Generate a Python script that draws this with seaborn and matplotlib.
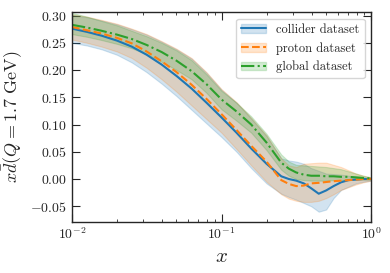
import numpy as np
import pandas as pd
import matplotlib
matplotlib.use("Agg")
import matplotlib.pyplot as plt
from matplotlib.patches import Patch
from matplotlib.lines import Line2D
import seaborn as sns

# x grid (log-spaced points)
x = [0.01, 0.0126, 0.0158, 0.02, 0.0251, 0.0316, 0.0398, 0.0501, 0.0631, 0.0794,
     0.1, 0.126, 0.158, 0.2, 0.251, 0.282, 0.316, 0.355, 0.398, 0.447,
     0.501, 0.562, 0.631, 0.708, 0.794, 0.891, 1.0]

# collider dataset
collider_mid = [0.276, 0.270, 0.263, 0.254, 0.243, 0.228, 0.210, 0.189, 0.166, 0.140,
                0.113, 0.085, 0.056, 0.028, 0.005, 0.000, -0.003, -0.008, -0.017, -0.027,
                -0.021, -0.013, -0.006, -0.002, -0.001, 0.000, 0.000]
collider_lo = [0.250, 0.245, 0.238, 0.228, 0.214, 0.196, 0.175, 0.152, 0.127, 0.102,
               0.077, 0.050, 0.020, -0.008, -0.027, -0.033, -0.038, -0.044, -0.050, -0.060,
               -0.056, -0.035, -0.020, -0.014, -0.008, -0.005, -0.003]
collider_hi = [0.301, 0.297, 0.291, 0.284, 0.275, 0.265, 0.252, 0.238, 0.221, 0.195,
               0.164, 0.140, 0.111, 0.079, 0.038, 0.034, 0.032, 0.028, 0.020, 0.015,
               0.010, 0.009, 0.008, 0.006, 0.004, 0.003, 0.002]

# proton dataset
proton_mid = [0.279, 0.273, 0.267, 0.259, 0.249, 0.234, 0.216, 0.196, 0.173, 0.147,
              0.119, 0.090, 0.061, 0.032, -0.002, -0.009, -0.013, -0.012, -0.008, -0.007,
              -0.0055, -0.004, -0.003, -0.002, -0.001, 0.000, 0.000]
proton_lo = [0.256, 0.250, 0.243, 0.234, 0.222, 0.204, 0.183, 0.160, 0.135, 0.110,
             0.085, 0.055, 0.025, -0.005, -0.028, -0.036, -0.040, -0.042, -0.042, -0.040,
             -0.035, -0.028, -0.020, -0.015, -0.010, -0.006, -0.003]
proton_hi = [0.302, 0.298, 0.292, 0.285, 0.276, 0.266, 0.253, 0.239, 0.222, 0.196,
             0.165, 0.141, 0.112, 0.080, 0.038, 0.025, 0.022, 0.028, 0.029, 0.030,
             0.030, 0.026, 0.022, 0.016, 0.010, 0.006, 0.003]

# global dataset
global_mid = [0.283, 0.278, 0.272, 0.265, 0.257, 0.246, 0.233, 0.217, 0.198, 0.174,
              0.146, 0.124, 0.100, 0.067, 0.030, 0.019, 0.012, 0.008, 0.006, 0.006,
              0.005, 0.005, 0.004, 0.004, 0.003, 0.002, 0.001]
global_lo = [0.266, 0.261, 0.255, 0.248, 0.240, 0.229, 0.215, 0.200, 0.183, 0.158,
             0.128, 0.107, 0.085, 0.053, 0.017, 0.006, 0.000, -0.002, -0.003, -0.003,
             -0.003, -0.002, -0.002, -0.002, -0.001, -0.001, -0.001]
global_hi = [0.305, 0.298, 0.290, 0.282, 0.272, 0.262, 0.250, 0.236, 0.218, 0.192,
             0.162, 0.140, 0.115, 0.083, 0.045, 0.032, 0.026, 0.025, 0.024, 0.023,
             0.022, 0.020, 0.018, 0.014, 0.010, 0.006, 0.003]

labels = ["collider dataset", "proton dataset", "global dataset"]
colors = ["#1f77b4", "#ff7f0e", "#2ca02c"]
styles = ["-", "--", "-."]

sns.set_style("ticks")
plt.rcParams["font.family"] = "serif"
plt.rcParams["font.serif"] = ["cmr10", "DejaVu Serif"]
plt.rcParams["mathtext.fontset"] = "cm"
plt.rcParams["axes.formatter.use_mathtext"] = True

fig = plt.figure(figsize=(3.9, 2.73), dpi=100)
ax = fig.add_axes([0.1846, 0.1886, 0.7667, 0.7664])

series = [(collider_mid, collider_lo, collider_hi),
          (proton_mid, proton_lo, proton_hi),
          (global_mid, global_lo, global_hi)]

handles = []
for (mid, lo, hi), lab, col, ls in zip(series, labels, colors, styles):
    df = pd.DataFrame({"x": x, "y": mid})
    ax.fill_between(x, lo, hi, color=col, alpha=0.2, linewidth=0.8)
    sns.lineplot(data=df, x="x", y="y", ax=ax, color=col, linestyle=ls, linewidth=1.5)
    handles.append((Patch(facecolor=col, alpha=0.2, edgecolor=col),
                    Line2D([], [], color=col, linestyle=ls, linewidth=1.5)))

ax.set_xscale("log")
ax.set_xlim(0.01, 1.0)
ax.set_ylim(-0.078, 0.306)
ax.set_yticks([-0.05, 0.0, 0.05, 0.10, 0.15, 0.20, 0.25, 0.30])
ax.set_xlabel(r"$x$", fontsize=15)
ax.set_ylabel(r"$x\bar{d}(Q=1.7\ \mathrm{GeV})$", fontsize=13)
ax.tick_params(which="both", direction="in", top=True, right=True, labelsize=10)
ax.tick_params(which="major", length=5.5)
ax.tick_params(which="minor", length=2.5)
for s in ax.spines.values():
    s.set_linewidth(1.0)

ax.legend(handles, labels, loc="upper right", fontsize=9)

fig.savefig("out.png", dpi=100)
